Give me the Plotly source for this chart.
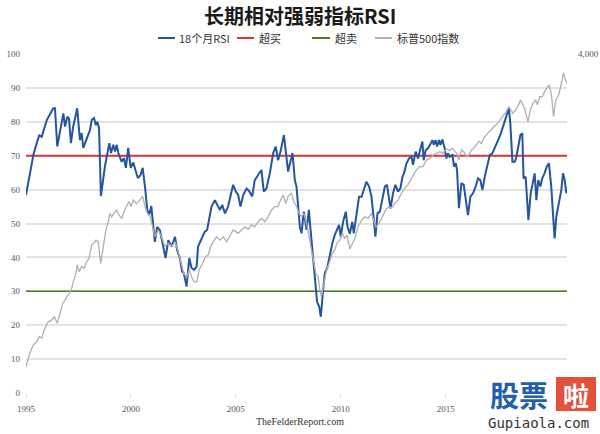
import plotly.graph_objects as go

# ---------------- data ----------------
rsi_year = [1995.00,1995.35,1995.51,1995.63,1995.75,1995.99,1996.30,1996.38,1996.49,1996.62,1996.78,1996.86,1996.97,
1997.05,1997.14,1997.25,1997.44,1997.57,1997.65,1997.73,1997.89,1998.05,1998.13,1998.24,1998.33,1998.40,1998.48,1998.57,
1998.76,1998.97,1999.05,1999.16,1999.24,1999.32,1999.40,1999.56,1999.67,1999.76,1999.87,1999.99,2000.11,2000.24,2000.33,
2000.46,2000.56,2000.67,2000.78,2000.87,2000.97,2001.14,2001.25,2001.38,2001.54,2001.65,2001.78,2001.94,2002.10,2002.20,
2002.33,2002.44,2002.52,2002.65,2002.78,2002.89,2003.01,2003.13,2003.20,2003.37,2003.52,2003.63,2003.73,2003.84,2004.00,
2004.11,2004.24,2004.35,2004.48,2004.63,2004.75,2004.87,2005.00,2005.11,2005.22,2005.35,2005.51,2005.63,2005.78,2005.90,
2006.06,2006.22,2006.33,2006.46,2006.62,2006.78,2006.90,2007.01,2007.13,2007.29,2007.38,2007.49,2007.60,2007.70,2007.81,
2007.89,2007.97,2008.05,2008.13,2008.24,2008.37,2008.48,2008.56,2008.63,2008.71,2008.81,2008.87,2008.97,2009.05,2009.13,
2009.24,2009.35,2009.48,2009.60,2009.71,2009.82,2009.92,2010.00,2010.11,2010.24,2010.32,2010.43,2010.55,2010.62,2010.75,
2010.87,2010.99,2011.10,2011.22,2011.35,2011.46,2011.57,2011.65,2011.75,2011.86,2011.99,2012.10,2012.20,2012.30,2012.37,
2012.49,2012.60,2012.73,2012.84,2012.94,2013.01,2013.13,2013.25,2013.37,2013.44,2013.57,2013.68,2013.80,2013.89,2013.95,
2014.05,2014.16,2014.27,2014.37,2014.43,2014.52,2014.59,2014.68,2014.75,2014.84,2014.95,2015.03,2015.11,2015.19,2015.32,
2015.40,2015.48,2015.54,2015.63,2015.75,2015.86,2015.95,2016.06,2016.18,2016.30,2016.43,2016.54,2016.65,2016.75,2016.86,
2016.97,2017.10,2017.22,2017.33,2017.46,2017.57,2017.70,2017.81,2017.92,2018.01,2018.08,2018.18,2018.29,2018.37,2018.46,
2018.56,2018.65,2018.71,2018.81,2018.94,2019.05,2019.16,2019.24,2019.32,2019.41,2019.51,2019.60,2019.71,2019.82,2019.92,
2020.03,2020.11,2020.19,2020.27,2020.40,2020.51,2020.59,2020.67,2020.75]
rsi_value = [58.4,70.2,73.7,76.0,75.6,80.5,84.0,84.0,72.7,76.7,82.5,78.6,81.5,
80.9,73.7,78.6,84.0,74.6,76.7,72.3,75.2,77.6,80.5,81.1,79.0,80.0,78.2,58.1,
66.8,73.7,70.8,73.2,71.2,73.2,70.8,68.2,69.3,66.4,72.3,66.4,68.0,64.9,63.4,
64.3,66.4,60.9,54.0,52.5,55.2,44.6,49.0,48.0,43.2,39.8,45.1,43.2,46.1,42.2,
39.8,35.8,35.4,31.4,39.8,36.9,36.3,37.3,43.2,45.7,47.6,48.1,51.0,55.0,56.9,
55.5,54.0,55.5,53.0,55.0,57.9,61.4,59.4,58.4,55.0,58.4,60.3,59.6,58.0,62.8,
64.3,65.8,59.4,60.4,64.9,70.8,72.7,68.7,71.2,76.1,71.2,65.3,68.2,70.8,62.8,
60.9,55.0,49.0,47.1,53.5,48.1,54.0,48.1,43.2,36.3,29.5,26.9,25.5,22.5,28.4,
35.3,36.8,41.2,44.2,46.6,48.1,49.6,46.1,50.5,53.5,49.0,47.0,50.5,47.1,52.5,
57.9,57.9,60.4,62.3,60.9,58.0,51.5,46.1,53.0,53.5,57.4,60.9,61.4,58.0,54.5,
58.9,61.4,59.4,60.4,63.8,64.8,67.7,69.2,69.7,67.3,71.2,69.2,72.2,74.2,68.7,
71.7,72.2,73.6,74.6,73.2,74.6,72.7,74.6,73.2,74.8,72.2,69.2,70.7,69.7,70.2,
66.8,67.8,65.8,54.5,61.9,61.4,58.0,52.5,58.0,58.9,60.9,63.3,62.8,59.9,63.8,
66.8,70.2,70.7,72.2,73.6,75.6,78.0,80.0,82.5,84.0,79.5,68.2,68.2,69.7,72.7,
76.1,76.6,63.3,63.8,51.0,58.9,61.9,64.8,56.9,62.8,60.9,63.3,64.8,66.8,67.8,
60.9,53.0,45.6,52.0,56.9,59.9,64.8,62.8,58.9]

spx_year = [1995.00,1995.19,1995.35,1995.51,1995.63,1995.75,1995.90,1996.06,1996.22,1996.35,1996.49,1996.62,1996.75,
1996.86,1996.94,1997.06,1997.18,1997.25,1997.38,1997.44,1997.54,1997.65,1997.76,1997.89,1998.00,1998.13,1998.24,1998.33,
1998.44,1998.56,1998.68,1998.81,1998.92,1999.00,1999.08,1999.19,1999.32,1999.43,1999.56,1999.67,1999.80,1999.90,2000.00,
2000.11,2000.27,2000.43,2000.56,2000.67,2000.78,2000.90,2001.03,2001.14,2001.30,2001.46,2001.62,2001.78,2001.94,2002.10,
2002.25,2002.41,2002.52,2002.65,2002.78,2002.89,2003.01,2003.13,2003.25,2003.41,2003.57,2003.68,2003.80,2003.92,2004.08,
2004.24,2004.40,2004.56,2004.71,2004.87,2005.00,2005.11,2005.27,2005.43,2005.59,2005.75,2005.90,2006.06,2006.22,2006.38,
2006.54,2006.70,2006.86,2007.01,2007.13,2007.25,2007.38,2007.49,2007.65,2007.76,2007.89,2008.01,2008.13,2008.24,2008.37,
2008.52,2008.68,2008.81,2008.92,2009.00,2009.08,2009.19,2009.32,2009.44,2009.60,2009.71,2009.82,2009.95,2010.08,2010.19,
2010.30,2010.43,2010.56,2010.67,2010.82,2010.99,2011.14,2011.30,2011.46,2011.57,2011.67,2011.82,2011.99,2012.14,2012.30,
2012.41,2012.57,2012.73,2012.89,2013.05,2013.20,2013.32,2013.44,2013.60,2013.76,2013.92,2014.08,2014.24,2014.40,2014.56,
2014.71,2014.87,2015.03,2015.19,2015.32,2015.43,2015.54,2015.63,2015.75,2015.86,2015.99,2016.11,2016.22,2016.33,2016.46,
2016.59,2016.70,2016.81,2016.94,2017.06,2017.18,2017.29,2017.41,2017.54,2017.65,2017.76,2017.89,2018.01,2018.10,2018.20,
2018.33,2018.44,2018.56,2018.65,2018.76,2018.84,2018.92,2019.03,2019.16,2019.29,2019.37,2019.48,2019.60,2019.71,2019.82,
2019.92,2020.03,2020.14,2020.24,2020.38,2020.46,2020.56,2020.62,2020.71,2020.78]
spx_value = [7.8,11.8,14.2,15.1,16.6,16.2,19.1,21.0,21.5,22.5,20.6,23.5,26.4,
27.4,28.4,29.4,30.9,32.8,35.3,37.8,35.8,37.3,36.8,38.7,39.7,43.7,44.2,45.1,
44.6,38.2,43.7,48.1,50.5,53.0,52.0,53.0,54.0,52.5,51.5,53.5,55.0,56.5,55.0,
56.9,55.8,56.9,58.0,55.0,53.0,52.5,49.0,46.1,48.1,46.1,43.2,44.2,43.2,44.6,
41.7,38.2,35.3,34.3,36.3,34.3,32.8,32.8,36.3,38.2,40.3,40.7,43.2,44.6,46.1,
45.1,46.1,44.6,46.1,48.1,47.6,47.1,48.1,49.0,48.3,49.6,49.0,50.5,51.5,50.5,
52.0,54.0,55.0,55.0,56.9,58.4,55.9,58.0,58.9,56.5,55.0,53.0,52.0,53.0,50.0,
45.1,39.2,35.3,34.3,30.4,28.4,32.4,36.3,38.2,41.2,42.2,44.2,45.1,47.1,45.6,
46.6,42.5,44.2,45.6,49.0,51.0,52.0,51.5,53.0,50.5,49.0,50.0,52.0,54.0,55.0,
54.5,55.9,56.9,58.9,60.4,61.4,62.8,63.8,65.8,66.8,66.8,68.7,69.2,70.2,70.7,
71.2,70.7,72.0,71.5,72.2,71.2,70.7,68.7,71.7,71.2,69.7,70.2,71.7,72.2,73.2,
74.2,73.6,75.1,76.1,77.1,77.6,78.6,79.1,80.0,81.0,82.0,83.0,84.5,83.5,82.5,
83.5,84.5,86.4,85.5,84.0,82.0,80.0,83.5,85.5,86.4,85.0,87.4,87.4,88.9,89.9,
90.9,88.4,81.5,86.4,87.9,89.9,92.3,94.4,92.3,91.4]

overbought = 70
oversold = 30
y_ticks = [0, 10, 20, 30, 40, 50, 60, 70, 80, 90, 100]
x_ticks = [1995, 2000, 2005, 2010, 2015]
x_range = [1995, 2020.78]
right_tick_label = "4,000"

title_text = "长期相对强弱指标RSI"
legend_names = ["18个月RSI", "超买", "超卖", "标普500指数"]
source_text = "TheFelderReport.com"

# ---------------- styling / layout ----------------
W, H = 600, 434
L, R, T, B = 26, 33, 54, 41
PW, PH = W - L - R, H - T - B

def px_x(px):
    return (px - L) / PW

def px_y(py):
    return (H - B - py) / PH

C_BLUE = "#24559f"
C_GREY = "#b0b0b0"
C_RED = "#d23a3a"
C_GREEN = "#4c7a22"
SERIF = "Liberation Serif, DejaVu Serif, serif"
CJK = "Noto Sans CJK SC"

fig = go.Figure()

fig.add_trace(go.Scatter(x=spx_year, y=spx_value, mode="lines", yaxis="y2",
                         line=dict(color=C_GREY, width=1.3), name=legend_names[3], hoverinfo="skip"))
fig.add_trace(go.Scatter(x=x_range, y=[overbought, overbought], mode="lines",
                         line=dict(color=C_RED, width=2), name=legend_names[1]))
fig.add_trace(go.Scatter(x=x_range, y=[oversold, oversold], mode="lines",
                         line=dict(color=C_GREEN, width=1.6), name=legend_names[2]))
fig.add_trace(go.Scatter(x=rsi_year, y=rsi_value, mode="lines",
                         line=dict(color=C_BLUE, width=2), name=legend_names[0]))

# manual legend
legend_items = [
    (158, 175, 177, C_BLUE, legend_names[0]),
    (237, 254, 257, C_RED, legend_names[1]),
    (312, 330, 333, C_GREEN, legend_names[2]),
    (375, 392, 395, C_GREY, legend_names[3]),
]
shapes = []
annotations = []
ly = 38
for x0, x1, tx, col, txt in legend_items:
    shapes.append(dict(type="line", xref="paper", yref="paper",
                       x0=px_x(x0), x1=px_x(x1), y0=px_y(ly), y1=px_y(ly),
                       line=dict(color=col, width=2)))
    annotations.append(dict(text=txt, xref="paper", yref="paper", x=px_x(tx), y=px_y(ly),
                            xanchor="left", yanchor="middle", showarrow=False,
                            font=dict(family=CJK, size=11, color="#333333")))

annotations.append(dict(text="<b>" + title_text + "</b>", xref="paper", yref="paper",
                        x=px_x(300), y=px_y(15), xanchor="center", yanchor="middle",
                        showarrow=False, font=dict(family=CJK, size=20, color="#1a1a1a")))
annotations.append(dict(text=source_text, xref="paper", yref="paper",
                        x=px_x(300), y=px_y(421), xanchor="center", yanchor="middle",
                        showarrow=False, font=dict(family=SERIF, size=10, color="#333333")))

# watermark
shapes.append(dict(type="rect", xref="paper", yref="paper",
                   x0=px_x(556), x1=px_x(596), y0=px_y(411), y1=px_y(377),
                   fillcolor="#e5503d", line=dict(width=0), layer="above"))
annotations.append(dict(text="<b>股票</b>", xref="paper", yref="paper",
                        x=px_x(519), y=px_y(394), xanchor="center", yanchor="middle",
                        showarrow=False, font=dict(family=CJK, size=29, color="#1f5fae")))
annotations.append(dict(text="<b>啦</b>", xref="paper", yref="paper",
                        x=px_x(576), y=px_y(394), xanchor="center", yanchor="middle",
                        showarrow=False, font=dict(family=CJK, size=26, color="#ffffff")))
annotations.append(dict(text="Gupiaola.com", xref="paper", yref="paper",
                        x=px_x(538), y=px_y(423), xanchor="center", yanchor="middle",
                        showarrow=False, font=dict(family="DejaVu Sans Mono, monospace", size=14, color="#333333")))

fig.update_layout(
    width=W, height=H,
    margin=dict(l=L, r=R, t=T, b=B, pad=0, autoexpand=False),
    paper_bgcolor="white", plot_bgcolor="white",
    showlegend=False,
    shapes=shapes, annotations=annotations,
    xaxis=dict(range=x_range, tickvals=x_ticks, ticktext=[str(v) for v in x_ticks],
               showgrid=False, zeroline=False, showline=False, automargin=False,
               ticks="outside", ticklen=3, tickcolor="#dddddd",
               tickfont=dict(family=SERIF, size=9, color="#555555"),
               ticklabelstandoff=4),
    yaxis=dict(range=[0, 100], tickvals=y_ticks, ticktext=[str(v) for v in y_ticks],
               showgrid=True, gridcolor="#e3e3e3", gridwidth=1.5, automargin=False,
               zeroline=False, showline=False, ticks="",
               tickfont=dict(family=SERIF, size=9, color="#555555"),
               ticklabelstandoff=5),
    yaxis2=dict(range=[0, 100], overlaying="y", side="right", automargin=False,
                tickvals=[100], ticktext=[right_tick_label],
                showgrid=False, zeroline=False, showline=False, ticks="",
                tickfont=dict(family=SERIF, size=9, color="#555555"),
                ticklabelstandoff=10),
)

fig.write_html("out.html")
